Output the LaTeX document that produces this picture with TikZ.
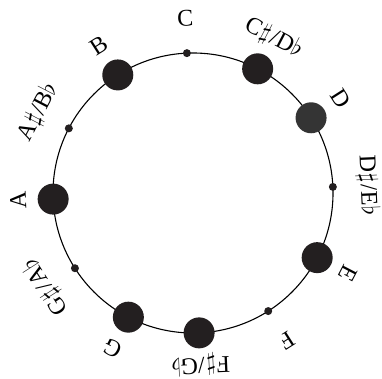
\documentclass[tikz,border=0pt]{standalone}
\usepackage{fontspec}
\setmainfont{Liberation Serif}
\usetikzlibrary{calc}
\definecolor{dotblack}{RGB}{35,31,32}
\definecolor{dotgray}{RGB}{52,52,52}
\newcommand\mysharp{\kern0.5pt{\fontsize{29}{29}\selectfont$\sharp$}\kern2pt}
\newcommand\myflat{{\fontsize{27}{27}\selectfont$\flat$}}
\begin{document}
\begin{tikzpicture}[x=1pt,y=1pt,
  ring/.style={line width=1.1pt,draw=black},
  bigdot/.style={circle,fill=dotblack,minimum size=31pt,inner sep=0pt},
  rootdot/.style={circle,fill=dotgray,minimum size=31pt,inner sep=0pt},
  smalldot/.style={circle,fill=dotblack,minimum size=8pt,inner sep=0pt},
  lbl/.style={font=\fontsize{24}{26}\selectfont,inner sep=0pt}]
\useasboundingbox (0,0) rectangle (382,378);
\coordinate (O) at (193,185);
\draw[ring] (O) circle (140);
% dots
\node[smalldot] (nC)  at ($(O)+(92.5:140)$) {};
\node[bigdot]   (nCs) at ($(O)+(62.5:140)$) {};
\node[rootdot]  (nD)  at ($(O)+(32.5:140)$) {};
\node[smalldot] (nDs) at ($(O)+(2.5:140)$) {};
\node[bigdot]   (nE)  at ($(O)+(-27.5:140)$) {};
\node[smalldot] (nF)  at ($(O)+(-57.5:140)$) {};
\node[bigdot]   (nFs) at ($(O)+(-87.5:140)$) {};
\node[bigdot]   (nG)  at ($(O)+(-117.5:140)$) {};
\node[smalldot] (nGs) at ($(O)+(-147.5:140)$) {};
\node[bigdot]   (nA)  at ($(O)+(-177.5:140)$) {};
\node[smalldot] (nAs) at ($(O)+(152.5:140)$) {};
\node[bigdot]   (nB)  at ($(O)+(122.5:140)$) {};
% labels
\node[lbl,rotate=2.5]    (lC)  at ($(O)+(92.5:175)$) {C};
\node[lbl,rotate=-27.5]  (lCs) at ($(O)+(62.5:175)$) {C\mysharp/D\myflat};
\node[lbl,rotate=-57.5]  (lD)  at ($(O)+(32.5:175)$) {D};
\node[lbl,rotate=-87.5]  (lDs) at ($(O)+(2.5:175)$) {D\mysharp/E\myflat};
\node[lbl,rotate=-117.5] (lE)  at ($(O)+(-27.5:175)$) {E};
\node[lbl,rotate=-147.5] (lF)  at ($(O)+(-57.5:175)$) {F};
\node[lbl,rotate=-177.5] (lFs) at ($(O)+(-87.5:172)$) {F\mysharp/G\myflat};
\node[lbl,rotate=-207.5] (lG)  at ($(O)+(-117.5:175)$) {G};
\node[lbl,rotate=-237.5] (lGs) at ($(O)+(-147.5:175)$) {G\mysharp/A\myflat};
\node[lbl,rotate=92.5]   (lA)  at ($(O)+(-177.5:175)$) {A};
\node[lbl,rotate=62.5]   (lAs) at ($(O)+(152.5:175)$) {A\mysharp/B\myflat};
\node[lbl,rotate=32.5]   (lB)  at ($(O)+(122.5:175)$) {B};
\end{tikzpicture}
\end{document}
